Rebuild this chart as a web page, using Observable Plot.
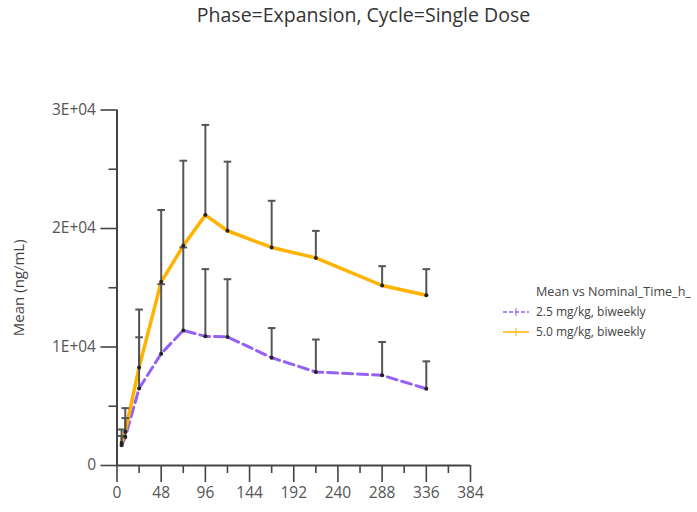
<!DOCTYPE html>
<html>
<head>
<meta charset="utf-8">
<script src="https://cdn.jsdelivr.net/npm/d3@7"></script>
<script src="https://cdn.jsdelivr.net/npm/@observablehq/plot@0.6"></script>
<style>
  html, body { margin: 0; padding: 0; background: #fff; }
  #wrap { position: relative; width: 697px; height: 512px; overflow: hidden; font-family: "Open Sans", sans-serif; }
  #title { position: absolute; left: 0; width: 727px; top: 1px; text-align: center; font-size: 19.5px; color: #333; }
  #legend { position: absolute; left: 503px; top: 282px; font-size: 12px; color: #444; line-height: 20px; }
  #legend .row { display: flex; align-items: center; white-space: nowrap; }
  #legend .head { font-size: 12.6px; padding-left: 33px; }
  #legend svg { margin-right: 7px; }
</style>
</head>
<body>
<div id="wrap">
  <div id="chart"></div>
  <div id="title"></div>
  <div id="legend"></div>
</div>
<script>
const chartTitle = "Phase=Expansion, Cycle=Single Dose";
const legendTitle = "Mean vs Nominal_Time_h_";
const yLabel = "Mean (ng/mL)";
const seriesNames = ["2.5 mg/kg, biweekly", "5.0 mg/kg, biweekly"];
const seriesColors = ["#9461f5", "#ffb300"];

const times = [5, 9, 24, 48, 72, 96, 120, 168, 216, 288, 336];
const dose25Mean  = [1700, 2400, 6500, 9440, 11400, 10900, 10850, 9100, 7890, 7610, 6480];
const dose25Upper = [2500, 4000, 10820, 15300, 18400, 16570, 15720, 11600, 10630, 10420, 8790];
const dose50Mean  = [1900, 2850, 8280, 15500, 18540, 21130, 19810, 18400, 17520, 15190, 14370];
const dose50Upper = [3040, 4840, 13160, 21560, 25720, 28740, 25640, 22340, 19800, 16820, 16570];

const xTicks = [0, 48, 96, 144, 192, 240, 288, 336, 384];
const xMinorTicks = [24, 72, 120, 168, 216, 264, 312, 360];
const yTicks = [0, 10000, 20000, 30000];
const yTickLabels = ["0", "1E+04", "2E+04", "3E+04"];
const yMinorTicks = [5000, 15000, 25000];

const rows = [];
times.forEach((t, i) => {
  rows.push({t, series: seriesNames[0], mean: dose25Mean[i], upper: dose25Upper[i]});
  rows.push({t, series: seriesNames[1], mean: dose50Mean[i], upper: dose50Upper[i]});
});
const s25 = rows.filter(d => d.series === seriesNames[0]);
const s50 = rows.filter(d => d.series === seriesNames[1]);

// horizontal cap symbol for error bars
const capSymbol = {
  draw(context, size) {
    const w = Math.sqrt(size / Math.PI);
    context.moveTo(-w, 0);
    context.lineTo(w, 0);
  }
};

const axisColor = "#444";
const plot = Plot.plot({
  width: 697,
  height: 512,
  marginLeft: 116.5,
  marginRight: 227,
  marginTop: 109.5,
  marginBottom: 47,
  style: {fontFamily: "Open Sans, sans-serif", background: "transparent"},
  x: {type: "linear", domain: [0, 384]},
  y: {type: "linear", domain: [0, 30000]},
  marks: [
    Plot.axisY({ticks: yTicks, tickSize: 16, tickPadding: 5, tickFormat: (d) => yTickLabels[yTicks.indexOf(d)], fontSize: 15.5, stroke: axisColor, strokeWidth: 1.6, color: "#555", label: null}),
    Plot.axisY({ticks: yMinorTicks, tickSize: 8, tickFormat: () => "", stroke: axisColor, strokeWidth: 1.6, label: null}),
    Plot.axisX({ticks: xTicks, tickSize: 17, tickPadding: 4, fontSize: 15.5, stroke: axisColor, strokeWidth: 1.6, color: "#555", label: null}),
    Plot.axisX({ticks: xMinorTicks, tickSize: 8, tickFormat: () => "", stroke: axisColor, strokeWidth: 1.6, label: null}),
    Plot.ruleX([0], {stroke: axisColor, strokeWidth: 2}),
    Plot.ruleY([0], {stroke: axisColor, strokeWidth: 2}),
    Plot.text([yLabel], {frameAnchor: "left", dx: -98, rotate: -90, textAnchor: "middle", fontSize: 15, fill: "#444"}),
    Plot.line(s25, {x: "t", y: "mean", stroke: seriesColors[0], strokeWidth: 3, strokeDasharray: "10,5"}),
    Plot.line(s50, {x: "t", y: "mean", stroke: seriesColors[1], strokeWidth: 3.5}),
    Plot.ruleX(rows, {x: "t", y1: "mean", y2: "upper", stroke: "#555", strokeWidth: 2}),
    Plot.dot(rows, {x: "t", y: "upper", symbol: capSymbol, r: 3.8, stroke: "#555", strokeWidth: 2, fill: "none"}),
    Plot.dot(rows, {x: "t", y: "mean", r: 2, fill: "#222"})
  ]
});
document.getElementById("chart").appendChild(plot);
document.getElementById("title").textContent = chartTitle;

const legend = document.getElementById("legend");
const head = document.createElement("div");
head.className = "row head";
head.textContent = legendTitle;
legend.appendChild(head);
seriesNames.forEach((name, i) => {
  const row = document.createElement("div");
  row.className = "row";
  const dash = i === 0 ? 'stroke-dasharray="4,2"' : '';
  row.innerHTML = `<svg width="26" height="10"><line x1="0" y1="5" x2="26" y2="5" stroke="${seriesColors[i]}" stroke-width="1.5" ${dash}/><line x1="13" y1="1" x2="13" y2="9" stroke="${seriesColors[i]}" stroke-width="1"/></svg><span>${name}</span>`;
  legend.appendChild(row);
});
</script>
</body>
</html>
